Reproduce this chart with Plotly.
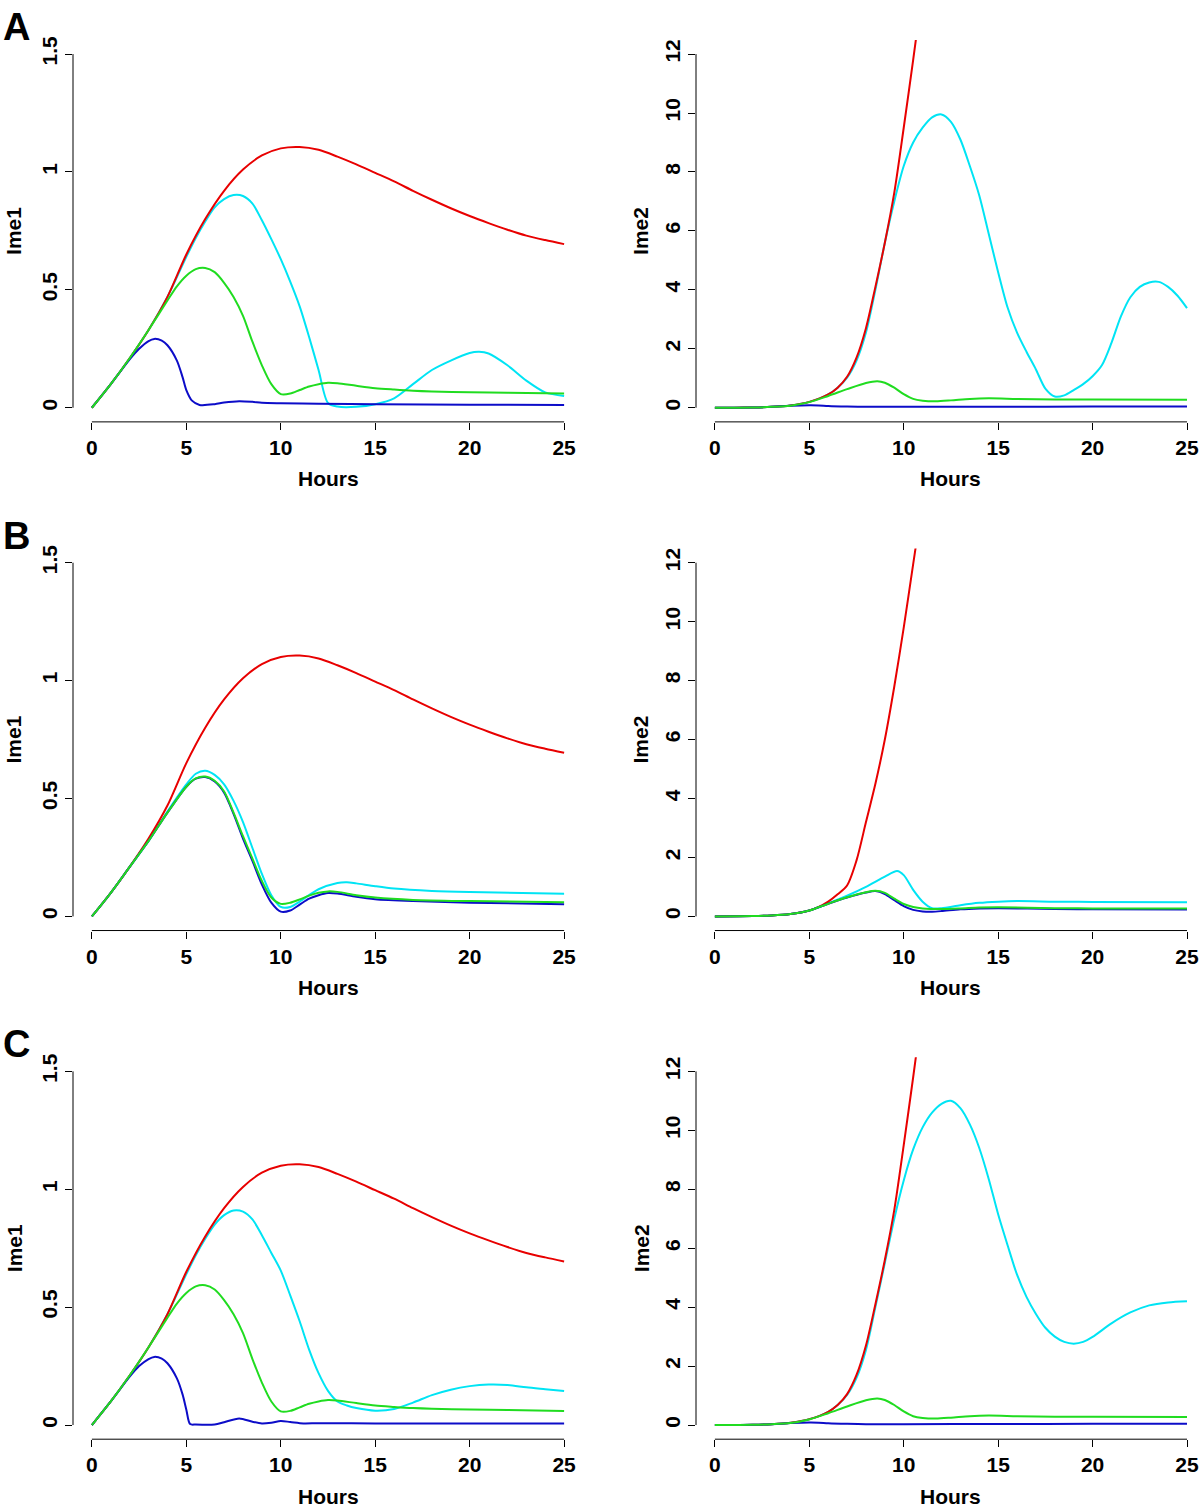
import plotly.graph_objects as go

# ---------------- data ----------------
HOURS_TICKS = [0, 5, 10, 15, 20, 25]
HOURS_TICKTEXT = ["0", "5", "10", "15", "20", "25"]
IME1_TICKS = [0, 0.5, 1, 1.5]
IME1_TICKTEXT = ["0", "0.5", "1", "1.5"]
IME2_TICKS = [0, 2, 4, 6, 8, 10, 12]
IME2_TICKTEXT = ["0", "2", "4", "6", "8", "10", "12"]

# Ime1 red (same in A, B, C)
T_IME1_RED = [0, 1, 2, 3, 4, 5, 6, 7, 8, 9, 10, 11, 12, 13, 14, 15, 16, 17, 18, 19, 20, 21, 22, 23, 24, 25]
IME1_RED = [0, 0.1, 0.21, 0.33, 0.47, 0.65, 0.8, 0.92, 1.01, 1.07, 1.1, 1.106, 1.094, 1.065, 1.032, 0.996,
            0.96, 0.92, 0.882, 0.846, 0.813, 0.783, 0.755, 0.73, 0.711, 0.694]

# Ime1 green (A and C)
T_IME1_GREEN = [0, 1, 2, 3, 4, 4.5, 5, 5.5, 6, 6.5, 7, 7.5, 8, 8.5, 9, 9.5, 10, 10.5, 11, 11.5, 12, 12.5, 13,
                14, 15, 16, 17, 18, 20, 22, 25]
IME1_GREEN = [0, 0.1, 0.21, 0.33, 0.455, 0.515, 0.56, 0.588, 0.593, 0.575, 0.53, 0.47, 0.39, 0.28, 0.18, 0.1,
              0.058, 0.06, 0.075, 0.09, 0.1, 0.106, 0.104, 0.093, 0.083, 0.077, 0.072, 0.069, 0.066, 0.064,
              0.06]

# A, Ime1
T_A1_CYAN = [0, 1, 2, 3, 4, 5, 5.5, 6, 6.5, 7, 7.5, 8, 8.5, 9, 9.5, 10, 10.5, 11, 11.5, 12, 12.5, 13, 14, 15,
             16, 17, 18, 19, 20, 20.5, 21, 22, 23, 24, 25]
A1_CYAN = [0, 0.1, 0.21, 0.33, 0.47, 0.64, 0.72, 0.79, 0.85, 0.885, 0.902, 0.898, 0.866, 0.795, 0.715, 0.63,
           0.535, 0.43, 0.3, 0.16, 0.02, 0.005, 0.004, 0.015, 0.04, 0.1, 0.16, 0.2, 0.232, 0.237, 0.23, 0.18,
           0.115, 0.065, 0.05]
T_A1_BLUE = [0, 1, 2, 2.5, 3, 3.3, 3.7, 4, 4.5, 4.8, 5, 5.3, 5.7, 6.5, 7, 7.8, 8.5, 9, 10, 12, 15, 20, 25]
A1_BLUE = [0, 0.1, 0.205, 0.25, 0.283, 0.292, 0.285, 0.265, 0.2, 0.13, 0.075, 0.03, 0.012, 0.015, 0.022,
           0.028, 0.025, 0.021, 0.019, 0.017, 0.015, 0.013, 0.012]

# B, Ime1
T_B1_CYAN = [0, 1, 2, 3, 4, 5, 5.5, 6, 6.5, 7, 7.5, 8, 8.5, 9, 9.5, 10, 10.5, 11, 12, 13, 13.5, 14, 15, 16,
             18, 20, 25]
B1_CYAN = [0, 0.1, 0.21, 0.32, 0.445, 0.56, 0.605, 0.618, 0.6, 0.56, 0.49, 0.4, 0.29, 0.18, 0.09, 0.04, 0.04,
           0.063, 0.115, 0.142, 0.145, 0.14, 0.128, 0.118, 0.108, 0.103, 0.096]
T_B1_GREEN = [0, 1, 2, 3, 4, 5, 5.5, 6, 6.5, 7, 7.5, 8, 8.5, 9, 9.5, 10, 10.5, 11, 11.5, 12, 12.5, 13, 14, 15,
              17, 20, 25]
B1_GREEN = [0, 0.1, 0.21, 0.32, 0.44, 0.55, 0.585, 0.593, 0.575, 0.53, 0.44, 0.34, 0.245, 0.15, 0.08, 0.053,
            0.058, 0.072, 0.088, 0.1, 0.106, 0.104, 0.09, 0.08, 0.07, 0.065, 0.06]
T_B1_BLUE = [0, 1, 2, 3, 4, 5, 5.5, 6, 6.5, 7, 7.5, 8, 8.5, 9, 9.5, 10, 10.5, 11, 11.5, 12, 12.5, 13, 14, 15,
             17, 20, 25]
B1_BLUE = [0, 0.1, 0.21, 0.32, 0.44, 0.55, 0.584, 0.591, 0.572, 0.525, 0.435, 0.33, 0.235, 0.135, 0.058, 0.02,
           0.025, 0.05, 0.075, 0.09, 0.099, 0.097, 0.083, 0.073, 0.065, 0.058, 0.052]

# C, Ime1
T_C1_CYAN = [0, 1, 2, 3, 4, 5, 5.5, 6, 6.5, 7, 7.5, 8, 8.5, 9, 9.5, 10, 10.5, 11, 11.5, 12, 12.5, 13, 13.5,
             14, 15, 16, 17, 18, 19, 20, 21, 22, 23, 24, 25]
C1_CYAN = [0, 0.1, 0.21, 0.33, 0.47, 0.64, 0.72, 0.79, 0.85, 0.89, 0.91, 0.905, 0.872, 0.805, 0.73, 0.655,
           0.55, 0.44, 0.32, 0.22, 0.145, 0.1, 0.083, 0.072, 0.061, 0.068, 0.095, 0.127, 0.15, 0.165, 0.172,
           0.17, 0.16, 0.152, 0.144]
T_C1_BLUE = [0, 1, 2, 2.5, 3, 3.3, 3.7, 4, 4.5, 4.8, 5, 5.2, 5.5, 6.5, 7, 7.8, 8.5, 9, 9.5, 10, 10.5, 11.2, 12,
             15, 20, 25]
C1_BLUE = [0, 0.1, 0.205, 0.25, 0.28, 0.289, 0.282, 0.262, 0.198, 0.13, 0.065, 0.004, 0.002, 0.002, 0.012,
           0.028, 0.014, 0.007, 0.01, 0.017, 0.013, 0.007, 0.008, 0.007, 0.006, 0.006]

# Ime2 red (A and C)
T_IME2_RED = [0, 1, 2, 3, 4, 5, 6, 6.5, 7, 7.5, 8, 8.5, 9, 9.5, 10, 10.5, 11]
IME2_RED = [0, 0.0, 0.01, 0.03, 0.08, 0.2, 0.45, 0.68, 1.05, 1.7, 2.7, 4.1, 5.6, 7.3, 9.5, 11.8, 14.2]
# Ime2 green (A and C)
T_IME2_GREEN = [0, 2, 3, 4, 5, 6, 7, 8, 8.6, 9, 9.5, 10, 10.5, 11, 11.7, 12.5, 13.5, 14.5, 16, 18, 20, 25]
IME2_GREEN = [0, 0.01, 0.03, 0.07, 0.19, 0.4, 0.63, 0.84, 0.9, 0.85, 0.68, 0.46, 0.3, 0.24, 0.22, 0.25, 0.3,
              0.32, 0.3, 0.28, 0.28, 0.27]
# Ime2 blue (A and C)
T_IME2_BLUE = [0, 2, 3, 4, 5, 5.5, 6, 7, 8, 10, 15, 20, 25]
IME2_BLUE = [0, 0.01, 0.03, 0.065, 0.085, 0.08, 0.06, 0.04, 0.03, 0.03, 0.035, 0.04, 0.045]

# A, Ime2
T_A2_CYAN = [0, 1, 2, 3, 4, 5, 6, 6.5, 7, 7.5, 8, 8.5, 9, 9.5, 10, 10.5, 11, 11.5, 12, 12.5, 13, 13.5, 14,
             14.5, 15, 15.5, 16, 16.5, 17, 17.5, 18, 18.5, 19, 19.5, 20, 20.5, 21, 21.5, 22, 22.5, 23, 23.5,
             24, 24.5, 25]
A2_CYAN = [0, 0, 0.01, 0.03, 0.08, 0.2, 0.45, 0.68, 1.02, 1.6, 2.55, 4.0, 5.6, 7.0, 8.2, 9.0, 9.5, 9.85, 9.95,
           9.7, 9.1, 8.2, 7.2, 5.9, 4.6, 3.4, 2.55, 1.9, 1.3, 0.65, 0.38, 0.42, 0.6, 0.8, 1.07, 1.45, 2.2, 3.1,
           3.75, 4.1, 4.25, 4.27, 4.1, 3.8, 3.38]

# B, Ime2
T_B2_RED = [0, 2, 3, 4, 5, 5.5, 6, 6.5, 7, 7.5, 8, 8.5, 9, 9.5, 10, 10.5, 11]
B2_RED = [0, 0.01, 0.03, 0.08, 0.2, 0.32, 0.5, 0.75, 1.05, 1.9, 3.2, 4.5, 6.0, 7.8, 9.8, 11.95, 14.1]
T_B2_CYAN = [0, 2, 3, 4, 5, 6, 7, 8, 9, 9.65, 10, 10.5, 11, 11.5, 12, 13, 14, 15, 16, 18, 20, 25]
B2_CYAN = [0, 0.01, 0.03, 0.08, 0.2, 0.44, 0.7, 1.0, 1.35, 1.54, 1.4, 0.9, 0.5, 0.28, 0.28, 0.38, 0.46, 0.5,
           0.52, 0.5, 0.49, 0.48]
T_B2_GREEN = [0, 2, 3, 4, 5, 6, 7, 8, 8.5, 9, 9.5, 10, 10.5, 11, 12, 13, 14, 15, 18, 20, 25]
B2_GREEN = [0, 0.01, 0.03, 0.08, 0.2, 0.43, 0.65, 0.82, 0.87, 0.8, 0.6, 0.42, 0.32, 0.27, 0.25, 0.27, 0.3,
            0.31, 0.28, 0.27, 0.27]
T_B2_BLUE = [0, 2, 3, 4, 5, 6, 7, 8, 8.5, 9, 9.5, 10, 10.5, 11, 11.5, 12, 13, 14, 15, 18, 20, 25]
B2_BLUE = [0, 0.01, 0.03, 0.08, 0.2, 0.43, 0.64, 0.81, 0.86, 0.76, 0.55, 0.35, 0.22, 0.17, 0.16, 0.18, 0.24,
           0.27, 0.28, 0.25, 0.24, 0.23]

# C, Ime2
T_C2_CYAN = [0, 1, 2, 3, 4, 5, 6, 6.5, 7, 7.5, 8, 8.5, 9, 9.5, 10, 10.5, 11, 11.5, 12, 12.5, 13, 13.5, 14,
             14.5, 15, 15.5, 16, 16.5, 17, 17.5, 18, 18.5, 19, 19.5, 20, 21, 22, 23, 24, 25]
C2_CYAN = [0, 0, 0.01, 0.03, 0.08, 0.2, 0.45, 0.68, 1.02, 1.6, 2.55, 4.0, 5.5, 7.0, 8.3, 9.35, 10.1, 10.6,
           10.9, 11.0, 10.75, 10.2, 9.4, 8.35, 7.15, 6.1, 5.1, 4.35, 3.77, 3.3, 3.0, 2.82, 2.76, 2.82, 2.99,
           3.45, 3.82, 4.06, 4.16, 4.2]

PANEL_LABELS = ["A", "B", "C"]
X_TITLE = "Hours"
Y_TITLES = ["Ime1", "Ime2"]

# ---------------- styling ----------------
COL = {"red": "#E80000", "cyan": "#00E4F4", "green": "#20DC20", "blue": "#0C0CC8"}
FONT = "Liberation Sans, Arial, Helvetica, sans-serif"
W, H = 1200, 1510
LW = 2
FS = 21

panels = {
    (0, 0): [("cyan", T_A1_CYAN, A1_CYAN), ("red", T_IME1_RED, IME1_RED),
             ("blue", T_A1_BLUE, A1_BLUE), ("green", T_IME1_GREEN, IME1_GREEN)],
    (0, 1): [("cyan", T_A2_CYAN, A2_CYAN), ("red", T_IME2_RED, IME2_RED),
             ("blue", T_IME2_BLUE, IME2_BLUE), ("green", T_IME2_GREEN, IME2_GREEN)],
    (1, 0): [("cyan", T_B1_CYAN, B1_CYAN), ("red", T_IME1_RED, IME1_RED),
             ("blue", T_B1_BLUE, B1_BLUE), ("green", T_B1_GREEN, B1_GREEN)],
    (1, 1): [("cyan", T_B2_CYAN, B2_CYAN), ("red", T_B2_RED, B2_RED),
             ("blue", T_B2_BLUE, B2_BLUE), ("green", T_B2_GREEN, B2_GREEN)],
    (2, 0): [("cyan", T_C1_CYAN, C1_CYAN), ("red", T_IME1_RED, IME1_RED),
             ("blue", T_C1_BLUE, C1_BLUE), ("green", T_IME1_GREEN, IME1_GREEN)],
    (2, 1): [("cyan", T_C2_CYAN, C2_CYAN), ("red", T_IME2_RED, IME2_RED),
             ("blue", T_IME2_BLUE, IME2_BLUE), ("green", T_IME2_GREEN, IME2_GREEN)],
}

ROW_TOP = [36, 546, 1056]
ROW_BOT = [419, 929, 1439]
COL_X = [(73, 583), (696, 1200)]
X_RANGES = [[-1, 26], [-1, 25 + 13 / 18.88]]
Y_RANGES = [[-0.06, 1.56], [-0.48, 12.48]]
Y_AXIS_TOP = [1.5, 12]


def bold(labels):
    return [f"<b>{s}</b>" for s in labels]


fig = go.Figure()
layout = dict(width=W, height=H, margin=dict(l=0, r=0, t=0, b=0),
              paper_bgcolor="white", plot_bgcolor="white", showlegend=False)
shapes, annotations = [], []
tickfont = dict(family=FONT, size=FS, color="black")

for (r, c), series in panels.items():
    idx = r * 2 + c + 1
    xa = "xaxis" if idx == 1 else f"xaxis{idx}"
    ya = "yaxis" if idx == 1 else f"yaxis{idx}"
    xr = "x" if idx == 1 else f"x{idx}"
    yr = "y" if idx == 1 else f"y{idx}"
    x0, x1 = COL_X[c]
    layout[xa] = dict(domain=[x0 / W, x1 / W], range=X_RANGES[c], anchor=yr,
                      tickvals=HOURS_TICKS, ticktext=bold(HOURS_TICKTEXT),
                      ticks="outside", ticklen=7, tickwidth=1,
                      tickcolor="black", showline=False, showgrid=False, zeroline=False,
                      tickfont=tickfont, fixedrange=True)
    layout[ya] = dict(domain=[1 - ROW_BOT[r] / H, 1 - ROW_TOP[r] / H], range=Y_RANGES[c], anchor=xr,
                      tickvals=IME1_TICKS if c == 0 else IME2_TICKS,
                      ticktext=bold(IME1_TICKTEXT if c == 0 else IME2_TICKTEXT),
                      ticks="outside", ticklen=7, tickwidth=1, tickcolor="black",
                      tickangle=-90, showline=False, showgrid=False, zeroline=False,
                      tickfont=tickfont, fixedrange=True)
    for color, t, v in series:
        fig.add_trace(go.Scatter(x=t, y=v, mode="lines", xaxis=xr, yaxis=yr,
                                 line=dict(color=COL[color], width=LW, shape="spline", smoothing=0.8),
                                 hoverinfo="skip"))
    shapes.append(dict(type="line", xref=xr, yref=f"{yr} domain", x0=HOURS_TICKS[0], x1=HOURS_TICKS[-1],
                       y0=0, y1=0, line=dict(color="black", width=1)))
    shapes.append(dict(type="line", xref=f"{xr} domain", yref=yr, x0=0, x1=0, y0=0, y1=Y_AXIS_TOP[c],
                       line=dict(color="black", width=1)))
    annotations.append(dict(text=f"<b>{X_TITLE}</b>", xref=xr, yref="paper", x=12.5,
                            y=1 - (476 + 510 * r) / H, xanchor="center", yanchor="middle", showarrow=False,
                            font=dict(family=FONT, size=FS, color="black")))
    annotations.append(dict(text=f"<b>{Y_TITLES[c]}</b>", xref="paper", yref=yr,
                            x=(14 if c == 0 else 641) / W, y=Y_AXIS_TOP[c] / 2,
                            xanchor="center", yanchor="middle", textangle=-90, showarrow=False,
                            font=dict(family=FONT, size=FS, color="black")))

for r, lab in enumerate(PANEL_LABELS):
    annotations.append(dict(text=f"<b>{lab}</b>", xref="paper", yref="paper", x=16 / W,
                            y=1 - (23 + 510 * r) / H, xanchor="center", yanchor="middle", showarrow=False,
                            font=dict(family=FONT, size=38, color="black")))

layout["shapes"] = shapes
layout["annotations"] = annotations
fig.update_layout(**layout)
fig.write_html("out.html", config={"displayModeBar": False},
               post_script="document.body.style.margin='0px';document.body.style.overflow='hidden';")
